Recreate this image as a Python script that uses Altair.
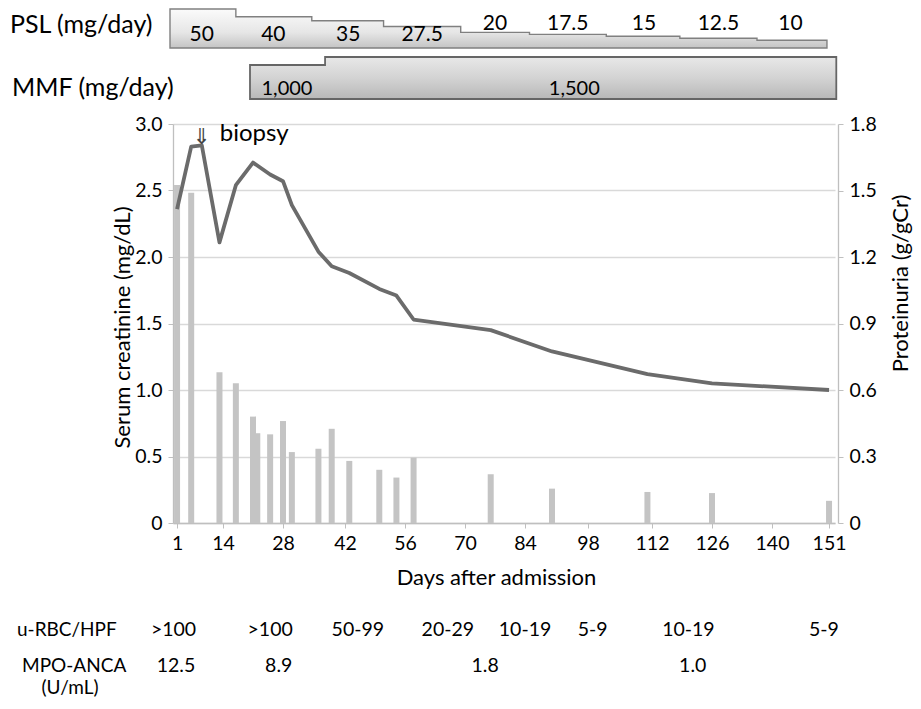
import altair as alt
import pandas as pd

FONT = "Lato"

# ---------------- data ----------------
cr_days = [1, 5, 8, 13, 17, 21, 25, 28, 30, 36, 39, 43, 50, 54, 58, 76, 90, 111, 126, 151]
cr_vals = [2.36, 2.83, 2.84, 2.11, 2.54, 2.71, 2.62, 2.57, 2.39, 2.04, 1.93, 1.88,
           1.76, 1.71, 1.53, 1.45, 1.29, 1.12, 1.05, 1.00]

up_days = [1, 5, 13, 17, 21, 22, 25, 28, 30, 36, 39, 43, 50, 54, 58, 76, 90, 111, 126, 151]
up_vals = [1.525, 1.49, 0.68, 0.63, 0.48, 0.405, 0.40, 0.46, 0.32, 0.335, 0.425, 0.28,
           0.24, 0.205, 0.295, 0.22, 0.155, 0.14, 0.135, 0.10]

psl_doses = [50, 40, 35, 27.5, 20, 17.5, 15, 12.5, 10]
psl_labels = ["50", "40", "35", "27.5", "20", "17.5", "15", "12.5", "10"]
psl_start = [-1, 17, 34.5, 51, 69, 85, 102, 118.5, 136.5]
psl_end = 150.6

mmf_doses = [1000, 1500]
mmf_labels = ["1,000", "1,500"]
mmf_start = [20.3, 37.5]
mmf_end = 152.4

rbc_labels = [">100", ">100", "50-99", "20-29", "10-19", "5-9", "10-19", "5-9"]
rbc_days = [0, 25, 45, 66, 84, 99, 120.5, 150]
anca_labels = ["12.5", "8.9", "1.8", "1.0"]
anca_days = [0.7, 27, 74.7, 121.5]

biopsy_day = [8]

x_ticks = [1, 14, 28, 42, 56, 70, 84, 98, 112, 126, 140, 151]
cr_ticks = [0, 0.5, 1.0, 1.5, 2.0, 2.5, 3.0]
up_ticks = [0, 0.3, 0.6, 0.9, 1.2, 1.5, 1.8]

# ---------------- layout ----------------
x_px = [0, 50, 110, 172, 232, 292, 352, 415, 479, 539, 599, 662]
W, H = 665, 399

line_df = pd.DataFrame({"day": cr_days, "creat": cr_vals})
bar_df = pd.DataFrame({"day": up_days, "prot": up_vals})
psl_area_df = pd.DataFrame({"day": psl_start + [psl_end], "dose": psl_doses + [psl_doses[-1]]})
psl_lab_df = pd.DataFrame({
    "start": psl_start, "end": psl_start[1:] + [psl_end],
    "dose": psl_doses, "lab": psl_labels})
mmf_area_df = pd.DataFrame({"day": mmf_start + [mmf_end], "dose": mmf_doses + [mmf_doses[-1]]})
mmf_lab_df = pd.DataFrame({
    "start": mmf_start, "end": mmf_start[1:] + [mmf_end], "lab": mmf_labels})
rbc_df = pd.DataFrame({"day": rbc_days, "lab": rbc_labels})
anca_df = pd.DataFrame({"day": anca_days, "lab": anca_labels})
bio_df = pd.DataFrame({"day": biopsy_day})

xscale = alt.Scale(domain=x_ticks, range=x_px, nice=False, zero=False)
AX = "#bfbfbf"
zero_expr = "datum.value == 0 ? '0' : format(datum.value, '.1f')"

xaxis = alt.Axis(values=x_ticks, title="Days after admission", titleFontSize=22,
                 titleFontWeight="normal", titleX=323, titleY=54, titleBaseline="middle",
                 titleColor="black", labelFontSize=19.5, labelColor="black",
                 labelPadding=6, tickSize=5, tickColor=AX, domainColor=AX, domainWidth=1.3,
                 labelFlush=False, labelOverlap=False, grid=False, format="d")


def X(field):
    return alt.X(field, type="quantitative", scale=xscale, axis=xaxis)


psl_grad = alt.LinearGradient(gradient="linear",
                              stops=[alt.GradientStop(color="#fbfbfb", offset=0),
                                     alt.GradientStop(color="#e6e6e6", offset=0.6),
                                     alt.GradientStop(color="#c4c4c4", offset=1)],
                              x1=0, x2=0, y1=0, y2=1)
mmf_grad = alt.LinearGradient(gradient="linear",
                              stops=[alt.GradientStop(color="#e8e8e8", offset=0),
                                     alt.GradientStop(color="#d3d3d3", offset=0.5),
                                     alt.GradientStop(color="#b8b8b8", offset=1)],
                              x1=0, x2=0, y1=0, y2=1)

psl_area = alt.Chart(psl_area_df).mark_area(
    interpolate="step-after", fill=psl_grad, stroke="#808080", strokeWidth=1.4
).encode(
    x=X("day"),
    y=alt.Y("dose:Q", scale=alt.Scale(domain=[0, 50], range=[-76, -115], nice=False), axis=None),
    y2=alt.datum(0),
)

mmf_area = alt.Chart(mmf_area_df).mark_area(
    interpolate="step-after", fill=mmf_grad, stroke="#666666", strokeWidth=1.8
).encode(
    x=X("day"),
    y=alt.Y("dose:Q", scale=alt.Scale(domain=[-1125, 1500], range=[-25, -67], nice=False, zero=False), axis=None),
    y2=alt.datum(-1125),
)

psl_text_in = alt.Chart(psl_lab_df).transform_filter("datum.dose >= 25").transform_calculate(
    mid="(datum.start + datum.end) / 2").mark_text(
    font=FONT, fontSize=21, color="black", baseline="alphabetic").encode(
    x=X("mid:Q"), y=alt.value(-83), text="lab:N")

psl_text_out = alt.Chart(psl_lab_df).transform_filter("datum.dose < 25").transform_calculate(
    mid="(datum.start + datum.end) / 2").mark_text(
    font=FONT, fontSize=21, color="black", baseline="alphabetic").encode(
    x=X("mid:Q"), y=alt.value(-94), text="lab:N")

mmf_text = alt.Chart(mmf_lab_df).transform_calculate(
    mid="(datum.start + datum.end) / 2").mark_text(
    font=FONT, fontSize=20, color="black", baseline="alphabetic").encode(
    x=X("mid:Q"), y=alt.value(-29), text="lab:N")

row_labels = alt.Chart(pd.DataFrame({"t": ["PSL (mg/day)"]})).mark_text(
    font=FONT, fontSize=25, color="black", align="left", baseline="middle").encode(
    x=alt.value(-163), y=alt.value(-99), text="t:N")
row_labels2 = alt.Chart(pd.DataFrame({"t": ["MMF (mg/day)"]})).mark_text(
    font=FONT, fontSize=25, color="black", align="left", baseline="middle").encode(
    x=alt.value(-161), y=alt.value(-36), text="t:N")

bars = alt.Chart(bar_df).mark_bar(size=6, color="#c4c4c4").encode(
    x=X("day"),
    y=alt.Y("prot:Q", scale=alt.Scale(domain=[0, 1.8], nice=False),
            axis=alt.Axis(orient="right", values=up_ticks, labelExpr=zero_expr,
                          title="Proteinuria (g/gCr)", titleFontSize=22, titleFontWeight="normal",
                          titleColor="black", titleX=62, titleY=159, titleAngle=270,
                          titleAlign="center", titleBaseline="middle",
                          labelFontSize=19.5, labelColor="black", labelPadding=6,
                          tickSize=5, tickColor=AX, domainColor=AX, domainWidth=1.3, grid=False)),
)

line = alt.Chart(line_df).mark_line(color="#6b6b6b", strokeWidth=3.8, strokeJoin="round").encode(
    x=X("day"),
    y=alt.Y("creat:Q", scale=alt.Scale(domain=[0, 3], nice=False),
            axis=alt.Axis(orient="left", values=cr_ticks, labelExpr=zero_expr,
                          title="Serum creatinine (mg/dL)", titleFontSize=22, titleFontWeight="normal",
                          titleColor="black", titleX=-51, titleY=203, titleAngle=270,
                          titleAlign="center", titleBaseline="middle",
                          labelFontSize=19.5, labelColor="black", labelPadding=6,
                          tickSize=5, tickColor=AX, domainColor=AX, domainWidth=1.3,
                          grid=True, gridColor="#d9d9d9", gridWidth=1.3)),
)

bio_arrow = alt.Chart(bio_df).mark_text(
    text="⇓", font="DejaVu Sans", fontSize=22, color="#444444", baseline="middle").encode(
    x=X("day"), y=alt.value(13))
bio_text = alt.Chart(bio_df).mark_text(
    text="biopsy", font=FONT, fontSize=24, color="black", align="left", baseline="middle", dx=18).encode(
    x=X("day"), y=alt.value(10))

rbc_text = alt.Chart(rbc_df).mark_text(font=FONT, fontSize=19.5, color="black", baseline="middle").encode(
    x=X("day"), y=alt.value(506), text="lab:N")
anca_text = alt.Chart(anca_df).mark_text(font=FONT, fontSize=19.5, color="black", baseline="middle").encode(
    x=X("day"), y=alt.value(542), text="lab:N")

tbl_lab1 = alt.Chart(pd.DataFrame({"t": ["u-RBC/HPF"]})).mark_text(
    font=FONT, fontSize=19, color="black", align="left", baseline="middle").encode(
    x=alt.value(-156), y=alt.value(506), text="t:N")
tbl_lab2 = alt.Chart(pd.DataFrame({"t": ["MPO-ANCA"]})).mark_text(
    font=FONT, fontSize=19, color="black", align="left", baseline="middle").encode(
    x=alt.value(-151), y=alt.value(542), text="t:N")
tbl_lab3 = alt.Chart(pd.DataFrame({"t": ["(U/mL)"]})).mark_text(
    font=FONT, fontSize=19, color="black", align="center", baseline="middle").encode(
    x=alt.value(-103), y=alt.value(564), text="t:N")

chart = alt.layer(
    psl_area, mmf_area, psl_text_in, psl_text_out, mmf_text, row_labels, row_labels2,
    bars, line, bio_arrow, bio_text, rbc_text, anca_text, tbl_lab1, tbl_lab2, tbl_lab3,
).resolve_scale(y="independent").properties(
    width=W, height=H,
    padding={"left": 165, "top": 116, "right": 75, "bottom": 176},
    autosize=alt.AutoSizeParams(type="none"),
).configure_view(strokeWidth=0).configure_axis(labelFont=FONT, titleFont=FONT)

chart.save("out.html", embed_options={"renderer": "svg", "actions": False})
